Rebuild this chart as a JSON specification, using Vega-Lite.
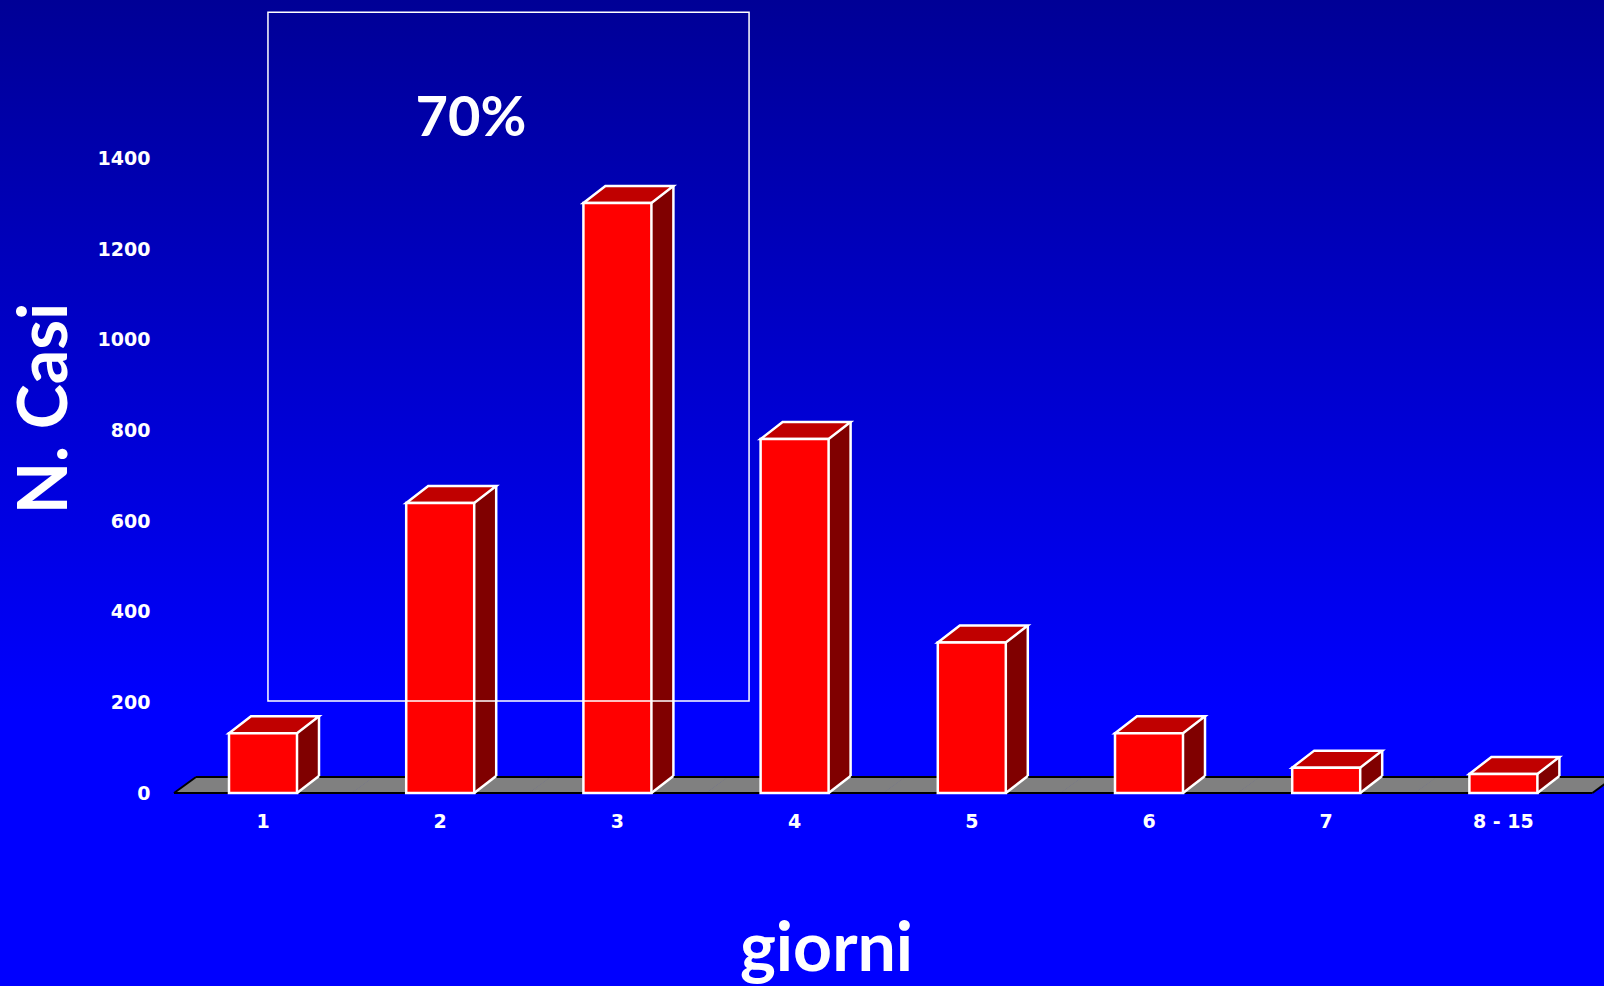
{
  "$schema": "https://vega.github.io/schema/vega-lite/v6.json",
  "width": 1604,
  "height": 986,
  "autosize": {"type": "none"},
  "padding": 0,
  "background": "#0000ff",
  "config": {
    "view": {
      "stroke": null,
      "fill": {
        "gradient": "linear",
        "x1": 0, "y1": 0, "x2": 0, "y2": 1,
        "stops": [
          {"offset": 0, "color": "#000096"},
          {"offset": 0.72, "color": "#0000ff"},
          {"offset": 1, "color": "#0000ff"}
        ]
      }
    },
    "axis": {
      "domain": false,
      "ticks": false,
      "tickSize": 0,
      "grid": false,
      "labelColor": "white",
      "labelFont": "DejaVu Sans",
      "labelFontWeight": "bold",
      "labelFontSize": 19,
      "titleColor": "white",
      "titleFont": "Comic Sans MS, Lato",
      "titleFontWeight": "bold",
      "titleFontSize": 68
    },
    "axisY": {
      "orient": "left",
      "offset": -150,
      "labelPadding": 0,
      "titleAngle": 270,
      "titleX": -104,
      "titleY": 408,
      "titleAlign": "center",
      "titleBaseline": "middle"
    }
  },
  "datasets": {
    "casi": [
      {"giorni": "1", "casi": 132},
      {"giorni": "2", "casi": 640},
      {"giorni": "3", "casi": 1302},
      {"giorni": "4", "casi": 781},
      {"giorni": "5", "casi": 332},
      {"giorni": "6", "casi": 132},
      {"giorni": "7", "casi": 56},
      {"giorni": "8 - 15", "casi": 42}
    ],
    "nota": [
      {"testo": "70%", "da": 1.028, "a": 3.743, "min": 203, "max": 1723, "tx": 2.174, "ty": 1487}
    ]
  },
  "layer": [
    {
      "data": {"name": "casi"},
      "encoding": {
        "x": {
          "field": "giorni",
          "type": "nominal",
          "sort": null,
          "scale": {"paddingInner": 0, "paddingOuter": 0.526, "align": 0.9356},
          "axis": {
            "title": "giorni",
            "labelAngle": 0,
            "offset": -186,
            "labelPadding": 12,
            "titleX": 826,
            "titleY": 170,
            "titleAlign": "center",
            "titleBaseline": "alphabetic"
          }
        }
      },
      "layer": [
        {
          "mark": {"type": "point", "shape": "M-89,0L89,0L111,-16L-67,-16Z", "size": 4, "filled": true, "fill": "#808080", "strokeWidth": 0, "opacity": 1},
          "encoding": {"y": {"datum": 0, "type": "quantitative", "scale": {"domain": [-425.9, 1750], "nice": false, "zero": false}, "axis": {"title": "N. Casi", "values": [0, 200, 400, 600, 800, 1000, 1200, 1400], "format": "d"}}}
        },
        {
          "mark": {"type": "point", "shape": "M-89,0L89,0M-67,-16L111,-16", "size": 4, "filled": false, "stroke": "black", "strokeWidth": 2, "opacity": 1},
          "encoding": {"y": {"datum": 0, "type": "quantitative", "axis": {"title": "N. Casi", "values": [0, 200, 400, 600, 800, 1000, 1200, 1400], "format": "d"}}}
        },
        {
          "transform": [{"filter": "datum.giorni == '1'"}],
          "mark": {"type": "point", "shape": "M-89,0L-67,-16", "size": 4, "filled": false, "stroke": "black", "strokeWidth": 2, "opacity": 1},
          "encoding": {"y": {"datum": 0, "type": "quantitative", "axis": {"title": "N. Casi", "values": [0, 200, 400, 600, 800, 1000, 1200, 1400], "format": "d"}}}
        },
        {
          "transform": [{"filter": "datum.giorni == '8 - 15'"}],
          "mark": {"type": "point", "shape": "M89,0L111,-16", "size": 4, "filled": false, "stroke": "black", "strokeWidth": 2, "opacity": 1},
          "encoding": {"y": {"datum": 0, "type": "quantitative", "axis": {"title": "N. Casi", "values": [0, 200, 400, 600, 800, 1000, 1200, 1400], "format": "d"}}}
        },
        {
          "mark": {"type": "point", "shape": "M34,0L56,-17L34,-17Z", "size": 4, "filled": true, "fill": "#800000", "strokeWidth": 0, "opacity": 1},
          "encoding": {"y": {"datum": 0, "type": "quantitative", "axis": {"title": "N. Casi", "values": [0, 200, 400, 600, 800, 1000, 1200, 1400], "format": "d"}}}
        },
        {
          "mark": {"type": "rule", "xOffset": 45, "yOffset": -17, "y2Offset": -17, "strokeWidth": 22, "strokeCap": "butt", "color": "#800000"},
          "encoding": {
            "y": {"field": "casi", "type": "quantitative", "axis": {"title": "N. Casi", "values": [0, 200, 400, 600, 800, 1000, 1200, 1400], "format": "d"}},
            "y2": {"datum": 0}
          }
        },
        {
          "mark": {"type": "rule", "xOffset": 56, "yOffset": -17, "y2Offset": -17, "strokeWidth": 2.5, "color": "white"},
          "encoding": {
            "y": {"field": "casi", "type": "quantitative", "axis": {"title": "N. Casi", "values": [0, 200, 400, 600, 800, 1000, 1200, 1400], "format": "d"}},
            "y2": {"datum": 0}
          }
        },
        {
          "mark": {"type": "point", "shape": "M34,0L56,-17", "size": 4, "filled": false, "stroke": "white", "strokeWidth": 2.5, "opacity": 1},
          "encoding": {"y": {"datum": 0, "type": "quantitative", "axis": {"title": "N. Casi", "values": [0, 200, 400, 600, 800, 1000, 1200, 1400], "format": "d"}}}
        },
        {
          "mark": {"type": "point", "shape": "M-34,0L34,0L56,-17L-12,-17Z", "size": 4, "filled": true, "fill": "#c00000", "stroke": "white", "strokeWidth": 2.5, "opacity": 1},
          "encoding": {"y": {"field": "casi", "type": "quantitative", "axis": {"title": "N. Casi", "values": [0, 200, 400, 600, 800, 1000, 1200, 1400], "format": "d"}}}
        },
        {
          "mark": {"type": "bar", "width": 68, "fill": "#ff0000", "stroke": "white", "strokeWidth": 2.5},
          "encoding": {
            "y": {"field": "casi", "type": "quantitative", "axis": {"title": "N. Casi", "values": [0, 200, 400, 600, 800, 1000, 1200, 1400], "format": "d"}}
          }
        }
      ]
    },
    {
      "data": {"name": "nota"},
      "layer": [
        {
          "mark": {"type": "rect", "fill": null, "fillOpacity": 0, "stroke": "white", "strokeWidth": 1.5},
          "encoding": {
            "x": {"field": "da", "type": "quantitative", "scale": {"domain": [-0.4842, 8.5677], "nice": false, "zero": false}, "axis": null},
            "x2": {"field": "a"},
            "y": {"field": "min", "type": "quantitative", "axis": {"title": "N. Casi", "values": [0, 200, 400, 600, 800, 1000, 1200, 1400], "format": "d"}},
            "y2": {"field": "max"}
          }
        },
        {
          "mark": {"type": "text", "font": "Comic Sans MS, Lato", "fontWeight": "bold", "fontSize": 56, "color": "white", "align": "center", "baseline": "middle"},
          "encoding": {
            "x": {"field": "tx", "type": "quantitative", "scale": {"domain": [-0.4842, 8.5677], "nice": false, "zero": false}, "axis": null},
            "y": {"field": "ty", "type": "quantitative", "axis": {"title": "N. Casi", "values": [0, 200, 400, 600, 800, 1000, 1200, 1400], "format": "d"}},
            "text": {"field": "testo"}
          }
        }
      ]
    }
  ],
  "resolve": {"scale": {"x": "independent"}}
}
